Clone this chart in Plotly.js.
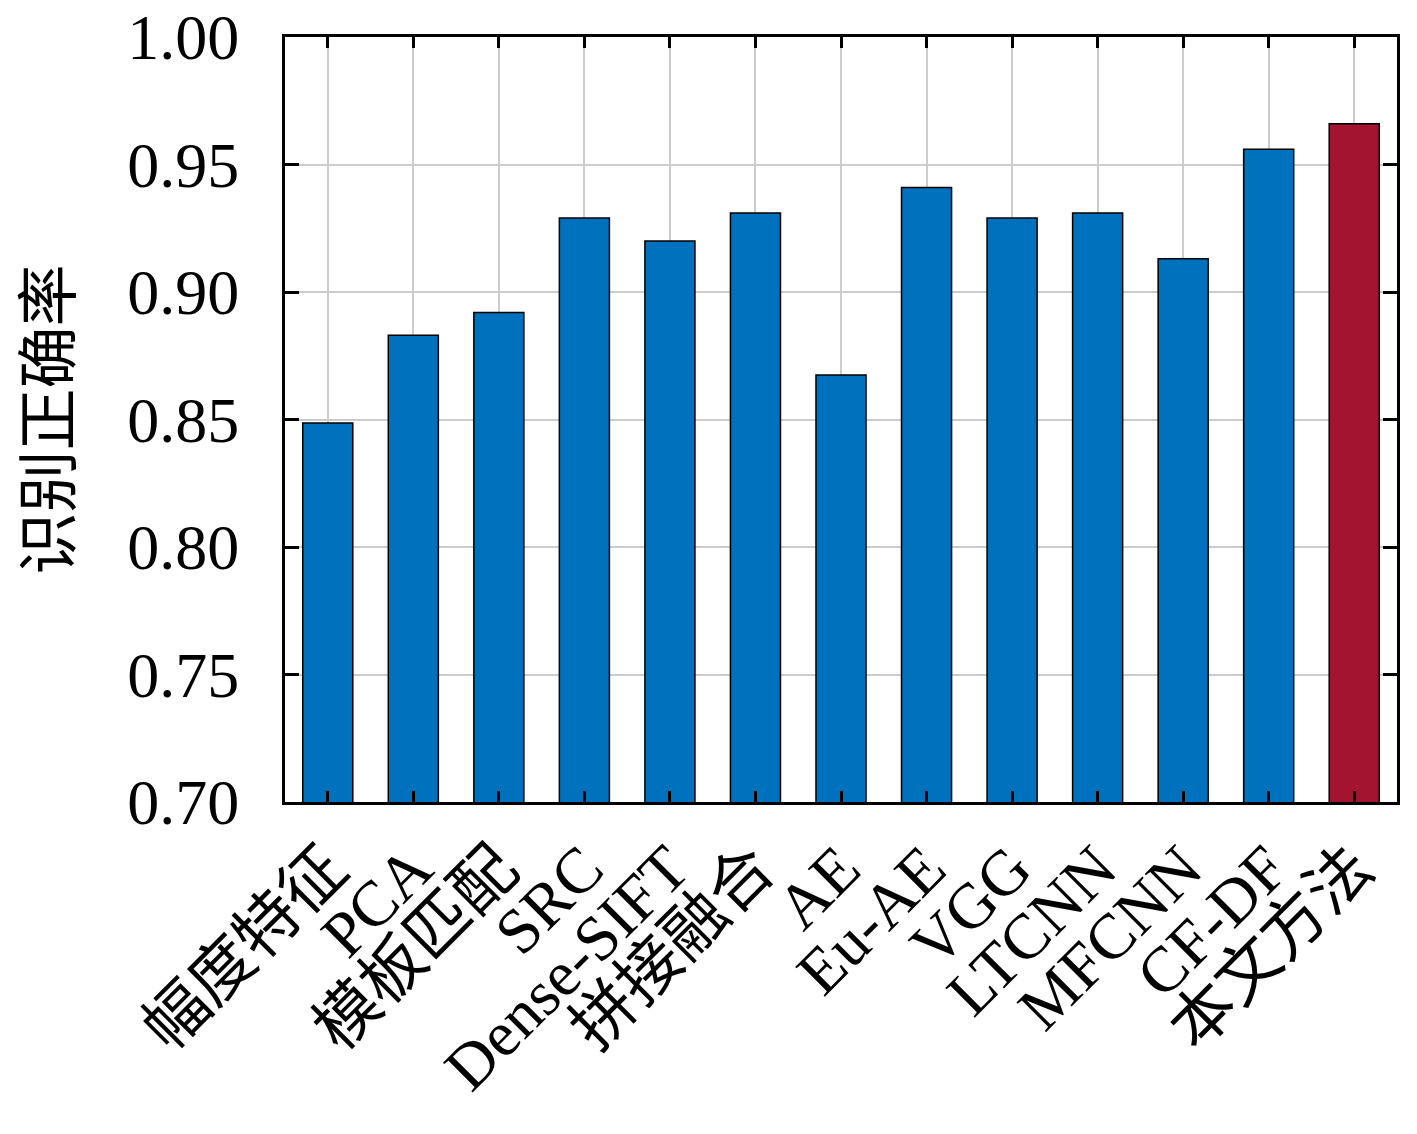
<!DOCTYPE html>
<html>
<head>
<meta charset="utf-8">
<script src="https://cdn.plot.ly/plotly-3.0.1.min.js"></script>
<style>
  body { margin: 0; background: #fff; }
  #chart { width: 1417px; height: 1134px; }
</style>
</head>
<body>
<div id="chart"></div>
<script>
// methods and recognition accuracy
const methods = ['幅度特征', 'PCA', '模板匹配', 'SRC', 'Dense-SIFT', '拼接融合', 'AE',
                 'Eu-AE', 'VGG', 'LTCNN', 'MFCNN', 'CF-DF', '本文方法'];
const accuracy = [0.8486, 0.883, 0.892, 0.929, 0.920, 0.931, 0.8675,
                  0.941, 0.929, 0.931, 0.913, 0.956, 0.966];
const yTicks = [0.70, 0.75, 0.80, 0.85, 0.90, 0.95, 1.00];

const blue = '#0072BD';
const red = '#A2142F';
const colors = methods.map((m, i) => i === methods.length - 1 ? red : blue);

const font = 'Liberation Serif, "Noto Sans CJK SC", serif';

const trace = {
    x: methods,
    y: accuracy,
    type: 'bar',
    marker: { color: colors, line: { color: '#000', width: 1.5 } },
    hoverinfo: 'x+y'
};

const layout = {
    width: 1417,
    height: 1134,
    margin: { l: 285, r: 20, t: 37, b: 332 },
    paper_bgcolor: '#fff',
    plot_bgcolor: '#fff',
    bargap: 0.415,
    showlegend: false,
    font: { family: font, color: '#000' },
    xaxis: {
        type: 'category',
        range: [-0.5, 12.5],
        tickangle: -45,
        tickfont: { size: 64, family: font },
        ticks: 'inside',
        ticklen: 11,
        tickwidth: 3,
        tickcolor: '#000',
        showline: true,
        linewidth: 3,
        linecolor: '#000',
        mirror: 'ticks',
        showgrid: true,
        gridcolor: '#cccccc',
        gridwidth: 2
    },
    yaxis: {
        range: [0.70, 1.00],
        tickvals: yTicks,
        ticktext: yTicks.map(v => v.toFixed(2)),
        tickfont: { size: 64, family: font },
        ticklabelstandoff: 30,
        ticks: 'inside',
        ticklen: 14,
        tickwidth: 3,
        tickcolor: '#000',
        showline: true,
        linewidth: 3,
        linecolor: '#000',
        mirror: 'ticks',
        showgrid: true,
        gridcolor: '#cccccc',
        gridwidth: 2,
        zeroline: false,
        title: { text: '识别正确率', font: { size: 62, family: font }, standoff: 36 }
    }
};

Plotly.newPlot('chart', [trace], layout, { displayModeBar: false });
</script>
</body>
</html>
